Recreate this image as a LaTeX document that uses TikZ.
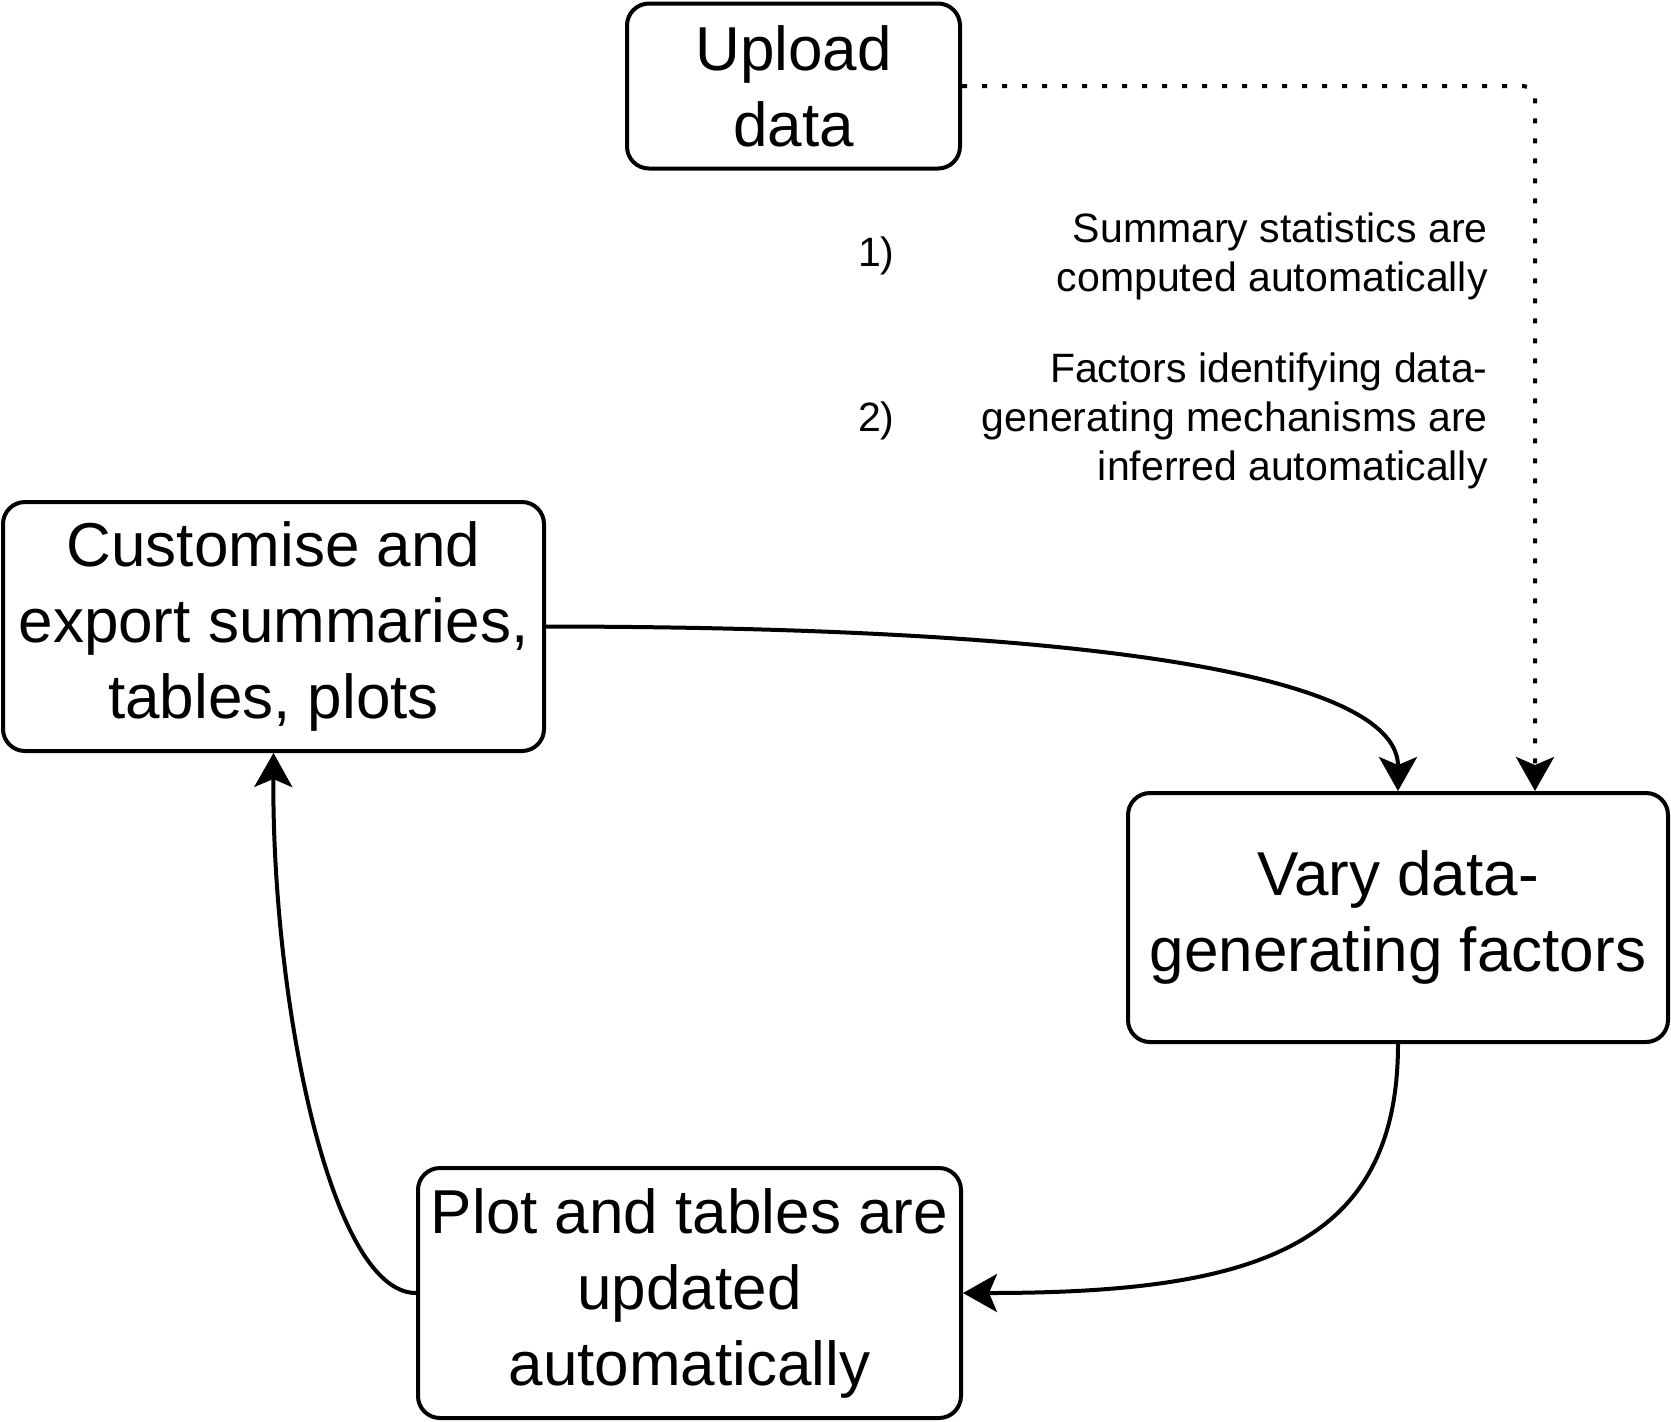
\documentclass[tikz,border=0pt]{standalone}
\usepackage{fontspec}
\setmainfont{Liberation Sans}
\usepackage{tikz}
\usetikzlibrary{arrows.meta}

\tikzset{
	stepbox/.style={draw, line width=2pt, rounded corners=11pt, align=center, inner sep=2pt,
		font=\fontsize{31}{38}\selectfont},
	notetext/.style={align=right, inner sep=0pt, font=\fontsize{20.5}{24.5}\selectfont},
	flow/.style={line width=2pt, -{Stealth[length=17pt, width=19pt, inset=4pt]}},
}

\begin{document}
\begin{tikzpicture}[x=0.5pt, y=-0.5pt]
	\useasboundingbox (0,0) rectangle (1671,1421);
	
	%boxes
	\node[stepbox, minimum width=166.5pt, minimum height=82.5pt] (upload) at (793.5,86)   {Upload\\data};
	\node[stepbox, minimum width=270.5pt, minimum height=124.5pt] (custom) at (273.5,626.5) {Customise and\\export summaries,\\tables, plots};
	\node[stepbox, minimum width=270pt, minimum height=124.5pt]   (vary)   at (1398,917.5)  {Vary data-\\generating factors};
	\node[stepbox, minimum width=271.5pt, minimum height=125pt]   (plot)   at (689.5,1293)  {Plot and tables are\\updated\\automatically};
	
	%notes - what happens after upload
	\node[notetext, anchor=east] (numA)  at (895,256)  {1)};
	\node[notetext, anchor=east] (noteA) at (1488,256) {Summary statistics are\\computed automatically};
	\node[notetext, anchor=east] (numB)  at (895,421)  {2)};
	\node[notetext, anchor=east] (noteB) at (1488,421) {Factors identifying data-\\generating mechanisms are\\inferred automatically};
	
	%connectors
	\draw[flow, dash pattern=on 2.5pt off 7.5pt, rounded corners=6pt]
		(upload.east) -| ([xshift=68.5pt]vary.north);									%dotted upload link
	\draw[flow] (custom.east) .. controls (1150,627) and (1398,685) .. (vary.north);	%top curve
	\draw[flow] (vary.south) .. controls (1398,1250) and (1250,1293) .. (plot.east);	%right curve
	\draw[flow] (plot.west) .. controls (330,1293) and (272,1000) .. (custom.south);	%left curve
	
\end{tikzpicture}
\end{document}
